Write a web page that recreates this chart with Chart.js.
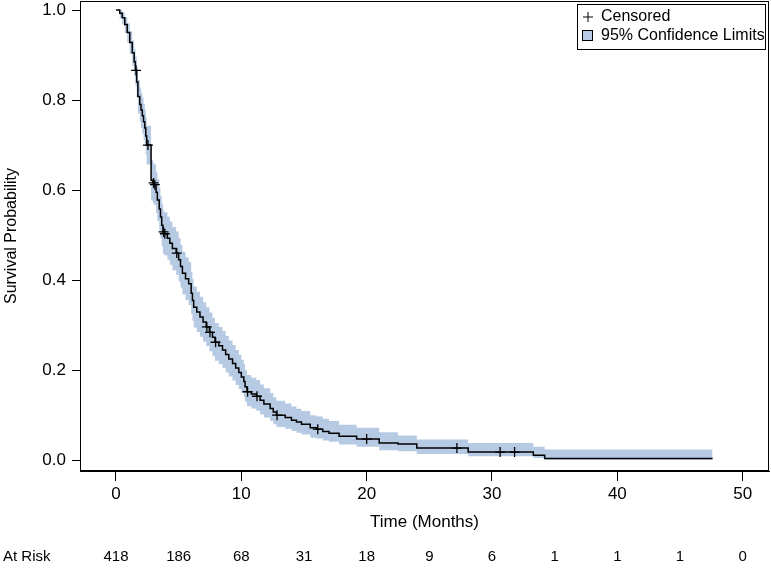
<!DOCTYPE html>
<html>
<head>
<meta charset="utf-8">
<script src="https://cdn.jsdelivr.net/npm/chart.js@4.4.1/dist/chart.umd.min.js"></script>
<style>
  html, body { margin: 0; padding: 0; background: #fff; }
  #wrap { width: 771px; height: 570px; }
</style>
</head>
<body>
<div id="wrap"><canvas id="km" width="771" height="570"></canvas></div>
<script>
// Kaplan-Meier estimate (months, probability)
const times = [0, 0.3, 0.5, 0.7, 0.9, 1.1, 1.3, 1.45, 1.55, 1.65, 1.75, 1.9, 2.0, 2.1, 2.2, 2.3, 2.38, 2.45, 2.8, 2.95, 3.05, 3.2, 3.3, 3.45, 3.55, 3.65, 3.75, 3.85, 4.1, 4.3, 4.5, 4.8, 5.0, 5.15, 5.3, 5.55, 5.8, 6.0, 6.1, 6.2, 6.45, 6.7, 6.95, 7.2, 7.45, 7.7, 7.9, 8.2, 8.5, 8.75, 9.0, 9.3, 9.55, 9.8, 10.0, 10.2, 10.3, 10.45, 10.8, 11.2, 11.5, 11.8, 12.3, 12.55, 12.8, 13.5, 14.0, 14.4, 14.8, 15.5, 16.0, 16.5, 17.0, 17.8, 19.2, 21.0, 22.5, 24.0, 28.1, 33.3, 34.2, 47.6];
const surv = [1, 0.993, 0.983, 0.968, 0.95, 0.928, 0.905, 0.885, 0.866, 0.84, 0.808, 0.79, 0.778, 0.765, 0.752, 0.738, 0.72, 0.7, 0.622, 0.616, 0.612, 0.595, 0.578, 0.558, 0.54, 0.522, 0.507, 0.503, 0.493, 0.482, 0.47, 0.46, 0.445, 0.43, 0.415, 0.403, 0.392, 0.371, 0.355, 0.34, 0.329, 0.318, 0.307, 0.296, 0.284, 0.273, 0.262, 0.254, 0.245, 0.235, 0.225, 0.215, 0.205, 0.195, 0.185, 0.175, 0.163, 0.152, 0.147, 0.142, 0.133, 0.125, 0.115, 0.107, 0.1, 0.095, 0.089, 0.085, 0.08, 0.072, 0.069, 0.064, 0.06, 0.053, 0.047, 0.038, 0.036, 0.027, 0.018, 0.011, 0.004, 0.004];
const upperCL = [1, 1, 0.995, 0.984, 0.97, 0.952, 0.932, 0.914, 0.897, 0.873, 0.845, 0.828, 0.816, 0.805, 0.792, 0.779, 0.762, 0.743, 0.667, 0.661, 0.657, 0.641, 0.624, 0.605, 0.587, 0.57, 0.555, 0.551, 0.541, 0.53, 0.518, 0.508, 0.493, 0.478, 0.463, 0.451, 0.44, 0.418, 0.402, 0.386, 0.374, 0.363, 0.351, 0.34, 0.328, 0.316, 0.305, 0.296, 0.287, 0.276, 0.266, 0.256, 0.245, 0.234, 0.223, 0.213, 0.2, 0.189, 0.183, 0.178, 0.168, 0.16, 0.149, 0.14, 0.132, 0.126, 0.119, 0.114, 0.109, 0.1, 0.097, 0.092, 0.087, 0.079, 0.072, 0.062, 0.055, 0.046, 0.038, 0.03, 0.024, 0.024];
const lowerCL = [1, 0.982, 0.968, 0.949, 0.927, 0.902, 0.876, 0.853, 0.832, 0.805, 0.77, 0.752, 0.738, 0.725, 0.711, 0.697, 0.678, 0.657, 0.577, 0.571, 0.567, 0.549, 0.532, 0.511, 0.493, 0.475, 0.459, 0.455, 0.445, 0.434, 0.422, 0.412, 0.397, 0.383, 0.368, 0.356, 0.345, 0.325, 0.31, 0.295, 0.285, 0.274, 0.263, 0.253, 0.242, 0.231, 0.221, 0.213, 0.205, 0.195, 0.186, 0.177, 0.167, 0.158, 0.149, 0.14, 0.13, 0.12, 0.115, 0.11, 0.102, 0.095, 0.087, 0.08, 0.074, 0.07, 0.065, 0.061, 0.057, 0.05, 0.048, 0.044, 0.041, 0.035, 0.03, 0.022, 0.02, 0.014, 0.009, 0.005, 0.001, 0.001];

const censorTimes = [1.6, 2.55, 3.0, 3.1, 3.8, 3.9, 4.85, 7.25, 7.5, 7.95, 10.5, 11.25, 12.85, 16.1, 20.0, 27.2, 30.65, 31.8];
const censorSurv = [0.866, 0.7, 0.616, 0.612, 0.507, 0.503, 0.46, 0.296, 0.284, 0.262, 0.152, 0.142, 0.1, 0.069, 0.047, 0.027, 0.018, 0.018];

const xTicks = [0, 10, 20, 30, 40, 50];
const yTicks = [0, 0.2, 0.4, 0.6, 0.8, 1.0];

const atRiskTimes = [0, 5, 10, 15, 20, 25, 30, 35, 40, 45, 50];
const atRiskCounts = [418, 186, 68, 31, 18, 9, 6, 1, 1, 1, 0];

const legendLabels = ["Censored", "95% Confidence Limits"];

const bandColor = "rgb(182,202,228)";
const font = '"Liberation Sans", Arial, sans-serif';

const toXY = (xs, ys) => xs.map((x, i) => ({ x: x, y: ys[i] }));

// frame, legend box and the at-risk row
const kmExtras = {
  id: "kmExtras",
  afterDraw(chart) {
    const ctx = chart.ctx;
    const area = chart.chartArea;
    const xs = chart.scales.x;
    ctx.save();

    ctx.strokeStyle = "#000";
    ctx.lineWidth = 1;
    ctx.strokeRect(area.left + 0.5, area.top + 0.5, area.right - area.left - 1, area.bottom - area.top - 1);

    // legend
    const bx = area.right - 192, by = area.top + 3, bw = 188, bh = 45;
    ctx.strokeRect(bx + 0.5, by + 0.5, bw, bh);
    ctx.font = "16px " + font;
    ctx.fillStyle = "#000";
    ctx.textBaseline = "middle";
    ctx.textAlign = "left";
    Chart.helpers.drawPoint(ctx, { pointStyle: "cross", radius: 5, borderWidth: 1.2, rotation: 0 }, bx + 11, by + 13);
    ctx.fillText(legendLabels[0], bx + 24, by + 13);
    ctx.fillStyle = bandColor;
    ctx.fillRect(bx + 5, by + 26, 10, 10);
    ctx.strokeRect(bx + 5.5, by + 26.5, 10, 10);
    ctx.fillStyle = "#000";
    ctx.fillText(legendLabels[1], bx + 24, by + 32);

    // at risk
    ctx.font = "15px " + font;
    ctx.textAlign = "left";
    ctx.fillText("At Risk", 3, 557);
    ctx.textAlign = "center";
    atRiskTimes.forEach((t, i) => {
      ctx.fillText(String(atRiskCounts[i]), xs.getPixelForValue(t), 557);
    });
    ctx.restore();
  }
};

Chart.defaults.font.family = font;
Chart.defaults.font.size = 17;
Chart.defaults.color = "#000";

new Chart(document.getElementById("km"), {
  type: "line",
  data: {
    datasets: [
      {
        label: "lower",
        data: toXY(times, lowerCL),
        stepped: true,
        borderWidth: 0,
        pointRadius: 0,
        fill: false,
        order: 4
      },
      {
        label: "95% Confidence Limits",
        data: toXY(times, upperCL),
        stepped: true,
        borderWidth: 0,
        pointRadius: 0,
        backgroundColor: bandColor,
        fill: "-1",
        order: 3
      },
      {
        label: "Survival",
        data: toXY(times, surv),
        stepped: true,
        borderColor: "#000",
        borderWidth: 1.5,
        pointRadius: 0,
        fill: false,
        order: 2
      },
      {
        label: "Censored",
        data: toXY(censorTimes, censorSurv),
        showLine: false,
        pointStyle: "cross",
        pointRadius: 5,
        pointBorderWidth: 1.3,
        borderColor: "#000",
        backgroundColor: "#000",
        order: 1
      }
    ]
  },
  options: {
    responsive: false,
    devicePixelRatio: 1,
    animation: false,
    layout: { autoPadding: false, padding: { top: 1, right: 2, bottom: 34, left: 0 } },
    plugins: {
      legend: { display: false },
      tooltip: { enabled: false }
    },
    scales: {
      x: {
        type: "linear",
        min: -2.87,
        max: 52.1,
        afterBuildTicks: (s) => { s.ticks = xTicks.map(v => ({ value: v })); },
        afterFit: (s) => { s.height = 65; s.paddingLeft = 0; s.paddingRight = 0; },
        ticks: { padding: 3, maxRotation: 0 },
        grid: { drawOnChartArea: false, tickLength: 10, color: "#000" },
        border: { display: true, color: "#000" },
        title: { display: true, text: "Time (Months)", padding: { top: 4, bottom: 3 } }
      },
      y: {
        min: -0.024,
        max: 1.02,
        afterBuildTicks: (s) => { s.ticks = yTicks.map(v => ({ value: v })); },
        afterFit: (s) => { s.width = 80; s.paddingTop = 0; s.paddingBottom = 0; },
        ticks: { padding: 6, callback: (v) => Number(v).toFixed(1) },
        grid: { drawOnChartArea: false, tickLength: 8, color: "#000" },
        border: { display: true, color: "#000" },
        title: { display: true, text: "Survival Probability", font: { size: 16 }, padding: { top: 2, bottom: 1 } }
      }
    }
  },
  plugins: [kmExtras]
});
</script>
</body>
</html>
